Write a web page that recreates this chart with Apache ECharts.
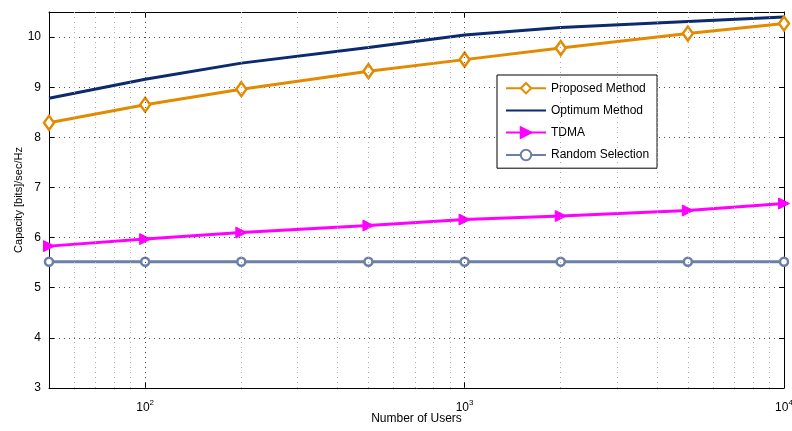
<!DOCTYPE html>
<html>
<head>
<meta charset="utf-8">
<script src="https://cdn.jsdelivr.net/npm/echarts@6/dist/echarts.min.js"></script>
<style>
  html, body { margin: 0; padding: 0; background: #fff; }
  #chart { width: 792px; height: 431px; }
</style>
</head>
<body>
<div id="chart"></div>
<script>
  // number of users (log scale)
  var users = [50, 100, 200, 500, 1000, 2000, 5000, 10000];
  var proposed = [8.29, 8.65, 8.96, 9.32, 9.55, 9.78, 10.07, 10.27];
  var optimum = [8.78, 9.16, 9.48, 9.79, 10.04, 10.19, 10.31, 10.40];
  var tdma = [5.83, 5.97, 6.10, 6.24, 6.36, 6.43, 6.54, 6.68];
  var randomSel = [5.52, 5.52, 5.52, 5.52, 5.52, 5.52, 5.52, 5.52];
  // grid lines of the log axis
  var xGrid = [60, 70, 80, 90, 100, 200, 300, 400, 500, 600, 700, 800, 900, 1000,
               2000, 3000, 4000, 5000, 6000, 7000, 8000, 9000];
  var xMajor = [100, 1000, 10000];

  var font = 'Liberation Sans, Arial, Helvetica, sans-serif';

  function pairs(ys) {
    var out = [];
    for (var i = 0; i < users.length; i++) out.push([users[i], ys[i]]);
    return out;
  }

  var chart = echarts.init(document.getElementById('chart'));

  var option = {
    animation: false,
    textStyle: {fontFamily: font},
    grid: {left: 49, right: 8, top: 12, bottom: 43, containLabel: false, outerBoundsMode: 'none', show: false},
    legend: {
      orient: 'vertical',
      left: 497,
      top: 75,
      padding: [7, 8, 7, 8],
      itemGap: 10,
      itemWidth: 40,
      itemHeight: 13,
      backgroundColor: '#fff',
      borderColor: '#000',
      borderWidth: 1,
      borderRadius: 0,
      textStyle: {fontFamily: font, fontSize: 12, color: '#000'},
      data: ['Proposed Method',
             {name: 'Optimum Method', itemStyle: {opacity: 0}},
             'TDMA', 'Random Selection']
    },
    xAxis: [{
      type: 'log',
      logBase: 10,
      min: 50,
      max: 10000,
      name: 'Number of Users',
      nameLocation: 'middle',
      nameGap: 25,
      nameMoveOverlap: false,
      nameTextStyle: {fontFamily: font, fontSize: 12, color: '#000'},
      axisLine: {show: true, onZero: false, lineStyle: {color: '#000', width: 1}},
      axisTick: {show: true, inside: true, length: 5, lineStyle: {color: '#000'}},
      splitLine: {show: false},
      axisLabel: {
        color: '#000',
        margin: 11,
        formatter: function (v) {
          var p = Math.round(Math.log(v) / Math.LN10);
          if (Math.abs(Math.pow(10, p) - v) > 1e-6 * v) return '';
          return '{b|10}{s|' + p + '}';
        },
        rich: {
          b: {fontFamily: font, fontSize: 12, color: '#000'},
          s: {fontFamily: font, fontSize: 8, color: '#000', padding: [0, 0, 9, 0]}
        }
      }
    }, {
      type: 'log',
      logBase: 10,
      min: 50,
      max: 10000,
      position: 'top',
      axisLine: {show: true, lineStyle: {color: '#000', width: 1}},
      axisTick: {show: true, inside: true, length: 5, lineStyle: {color: '#000'}},
      axisLabel: {show: false},
      splitLine: {show: false}
    }],
    yAxis: [{
      type: 'value',
      min: 3,
      max: 10.5,
      interval: 1,
      name: 'Capacity [bits]/sec/Hz',
      nameLocation: 'middle',
      nameGap: 25,
      nameMoveOverlap: false,
      nameTextStyle: {fontFamily: font, fontSize: 11, color: '#000'},
      axisLine: {show: true, lineStyle: {color: '#000', width: 1}},
      axisTick: {show: true, inside: true, length: 5, lineStyle: {color: '#000'}},
      axisLabel: {
        color: '#000', fontSize: 12, margin: 8,
        formatter: function (v) { return v % 1 === 0 ? String(v) : ''; }
      },
      splitLine: {show: true, lineStyle: {color: '#555', type: [1, 4], width: 1}}
    }, {
      type: 'value',
      min: 3,
      max: 10.5,
      interval: 1,
      position: 'right',
      axisLine: {show: true, lineStyle: {color: '#000', width: 1}},
      axisTick: {show: true, inside: true, length: 5, lineStyle: {color: '#000'}},
      axisLabel: {show: false},
      splitLine: {show: false}
    }],
    series: [
      {
        name: 'grid',
        type: 'line',
        data: [],
        silent: true,
        markLine: {
          silent: true,
          symbol: 'none',
          label: {show: false},
          lineStyle: {color: '#aaa', type: [1, 4], width: 1},
          data: xGrid.map(function (x) {
            return {xAxis: x, lineStyle: {color: xMajor.indexOf(x) >= 0 ? '#444' : '#aaa'}};
          })
        }
      },
      {
        name: 'Random Selection',
        type: 'line',
        data: pairs(randomSel),
        symbol: 'circle',
        symbolSize: 8,
        color: '#6c7fa8',
        lineStyle: {width: 3, color: '#6c7fa8'},
        itemStyle: {color: '#fff', borderColor: '#6c7fa8', borderWidth: 2.5}
      },
      {
        name: 'TDMA',
        type: 'line',
        data: pairs(tdma),
        symbol: 'triangle',
        symbolRotate: -90,
        symbolSize: 11,
        color: '#ff00ff',
        lineStyle: {width: 3, color: '#ff00ff'},
        itemStyle: {color: '#ff00ff', borderColor: '#ff00ff', borderWidth: 1}
      },
      {
        name: 'Optimum Method',
        type: 'line',
        data: pairs(optimum),
        symbol: 'none',
        color: '#0c2a6e',
        lineStyle: {width: 3, color: '#0c2a6e'}
      },
      {
        name: 'Proposed Method',
        type: 'line',
        data: pairs(proposed),
        symbol: 'diamond',
        symbolSize: [10, 14],
        color: '#e38a00',
        lineStyle: {width: 3, color: '#e38a00'},
        itemStyle: {color: '#fff', borderColor: '#e38a00', borderWidth: 2.5}
      }
    ]
  };

  chart.setOption(option);
</script>
</body>
</html>
